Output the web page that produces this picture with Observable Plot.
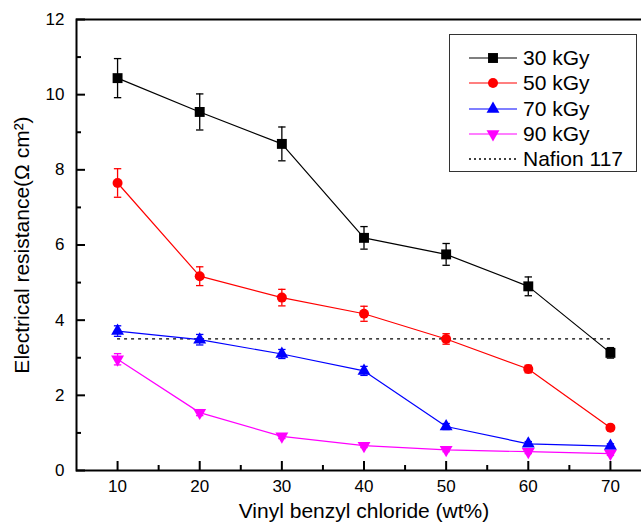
<!DOCTYPE html>
<html><head><meta charset="utf-8">
<script src="https://cdn.jsdelivr.net/npm/d3@7"></script>
<script src="https://cdn.jsdelivr.net/npm/@observablehq/plot@0.6"></script>
<style>
html,body{margin:0;padding:0;background:#fff;overflow:hidden;}
#wrap{position:relative;width:641px;height:529px;overflow:hidden;font-family:"Liberation Sans",Arial,sans-serif;}
#wrap > svg{max-width:none !important;display:block;}
#legend{position:absolute;left:449px;top:34px;width:186px;height:136px;border:1px solid #333;background:#fff;}
.row{position:absolute;left:0;height:24px;display:flex;align-items:center;white-space:nowrap;}
.row svg{margin-left:19px;display:block;}
.row span{margin-left:6px;font-size:21px;color:#000;line-height:24px;}
</style></head><body><div id="wrap"></div>
<script>
// ---- data ----
const wtPercent = [10, 20, 30, 40, 50, 60, 70];
const seriesNames = ["30 kGy", "50 kGy", "70 kGy", "90 kGy"];
const r30 = [10.44, 9.54, 8.69, 6.19, 5.75, 4.90, 3.13];
const e30 = [0.52, 0.48, 0.45, 0.30, 0.29, 0.25, 0.14];
const r50 = [7.65, 5.17, 4.60, 4.17, 3.50, 2.70, 1.14];
const e50 = [0.38, 0.25, 0.22, 0.20, 0.14, 0.10, 0.06];
const r70 = [3.71, 3.48, 3.10, 2.65, 1.17, 0.71, 0.65];
const e70 = [0.14, 0.14, 0.12, 0.12, 0.08, 0.06, 0.06];
const r90 = [2.96, 1.54, 0.91, 0.66, 0.55, 0.50, 0.45];
const e90 = [0.15, 0.08, 0.06, 0.05, 0.05, 0.05, 0.05];
const nafionLabel = "Nafion 117";
const nafionValue = [3.5];
const nafionRange = [10, 70];
const xTicks = [10, 20, 30, 40, 50, 60, 70];
const xMinor = [15, 25, 35, 45, 55, 65];
const yTicks = [0, 2, 4, 6, 8, 10, 12];
const yMinor = [1, 3, 5, 7, 9, 11];
const xTitle = "Vinyl benzyl chloride (wt%)";
const yTitle = "Electrical resistance(\u03A9 cm\u00B2)";

// ---- styles ----
const colors = ["#000000", "#ff0000", "#0000ff", "#ff00ff"];
const triangleDown = {
  draw(context, size) {
    const y = Math.sqrt(size / (Math.sqrt(3) * 3));
    context.moveTo(0, 2 * y);
    context.lineTo(Math.sqrt(3) * y, -y);
    context.lineTo(-Math.sqrt(3) * y, -y);
    context.closePath();
  }
};
const symbols = [d3.symbolSquare, d3.symbolCircle, d3.symbolTriangle, triangleDown];
const radii = [5.6, 5, 4.8, 4.8];

const values = [r30, r50, r70, r90];
const errors = [e30, e50, e70, e90];
const rows = [];
seriesNames.forEach((s, i) => wtPercent.forEach((x, j) => rows.push({series: s, x, y: values[i][j], err: errors[i][j]})));

const W = 652, H = 529, mL = 76, mR = 1, mT = 19, mB = 59;
const frameW = W - mL - mR, frameH = H - mT - mB;
const capHalf = 0.45;
const majorLen = 9, minorLen = 5;
const marks = [
  Plot.ruleY(nafionValue, {x1: nafionRange[0], x2: nafionRange[1], stroke: "#000", strokeWidth: 1.3, strokeDasharray: "3,4"}),
  Plot.line(rows, {x: "x", y: "y", z: "series", stroke: "series", strokeWidth: 1.2}),
  Plot.ruleX(rows, {x: "x", y1: d => d.y - d.err, y2: d => d.y + d.err, stroke: "series", strokeWidth: 1.3}),
  Plot.link(rows, {x1: d => d.x - capHalf, x2: d => d.x + capHalf, y1: d => d.y + d.err, y2: d => d.y + d.err, stroke: "series", strokeWidth: 1.3}),
  Plot.link(rows, {x1: d => d.x - capHalf, x2: d => d.x + capHalf, y1: d => d.y - d.err, y2: d => d.y - d.err, stroke: "series", strokeWidth: 1.3}),
  ...seriesNames.map((s, i) => Plot.dot(rows.filter(d => d.series === s), {x: "x", y: "y", fill: colors[i], symbol: symbols[i], r: radii[i]})),
  Plot.frame({stroke: "#000", strokeWidth: 2}),
  // inward ticks
  Plot.tickX(xTicks, {x: d => d, insetTop: frameH - majorLen, stroke: "#000", strokeWidth: 2}),
  Plot.tickX(xMinor, {x: d => d, insetTop: frameH - minorLen, stroke: "#000", strokeWidth: 2}),
  Plot.tickY(yTicks, {y: d => d, insetRight: frameW - majorLen, stroke: "#000", strokeWidth: 2}),
  Plot.tickY(yMinor, {y: d => d, insetRight: frameW - minorLen, stroke: "#000", strokeWidth: 2}),
  // tick labels
  Plot.axisX({ticks: xTicks, tickSize: 0, tickPadding: 9, fontSize: 17, label: null}),
  Plot.axisY({ticks: yTicks, tickSize: 0, tickPadding: 12, fontSize: 17, label: null}),
  Plot.text([xTitle], {frameAnchor: "bottom", dy: 47, fontSize: 21, textAnchor: "middle"}),
  Plot.text([yTitle], {frameAnchor: "left", dx: -54, rotate: -90, fontSize: 21, textAnchor: "middle"})
];

const chart = Plot.plot({
  width: W, height: H,
  marginLeft: mL, marginRight: mR, marginTop: mT, marginBottom: mB,
  style: {fontFamily: "'Liberation Sans', Arial, sans-serif", color: "#000", maxWidth: "none"},
  x: {domain: [5, 75], axis: null},
  y: {domain: [0, 12], axis: null},
  color: {domain: seriesNames, range: colors},
  marks
});
const wrap = document.getElementById("wrap");
wrap.appendChild(chart);

// ---- legend ----
const legend = document.createElement("div");
legend.id = "legend";
const entries = seriesNames.map((s, i) => ({label: s, color: colors[i], symbol: symbols[i], r: radii[i], dash: null}))
  .concat([{label: nafionLabel, color: "#000", symbol: null, dash: "2,3"}]);
const rowTops = entries.map((_, i) => 11 + i * 25.3);
entries.forEach((e, i) => {
  const row = document.createElement("div");
  row.className = "row";
  row.style.top = rowTops[i] + "px";
  const svg = d3.create("svg").attr("width", 48).attr("height", 24);
  svg.append("line").attr("x1", 0).attr("x2", 48).attr("y1", 12).attr("y2", 12)
    .attr("stroke", e.color).attr("stroke-width", e.dash ? 1.3 : 1.2).attr("stroke-dasharray", e.dash);
  if (e.symbol) {
    svg.append("path").attr("transform", "translate(24,12)")
      .attr("d", d3.symbol().type(e.symbol).size(Math.PI * e.r * e.r)()).attr("fill", e.color);
  }
  row.appendChild(svg.node());
  const span = document.createElement("span");
  span.textContent = e.label;
  row.appendChild(span);
  legend.appendChild(row);
});
wrap.appendChild(legend);
</script></body></html>
